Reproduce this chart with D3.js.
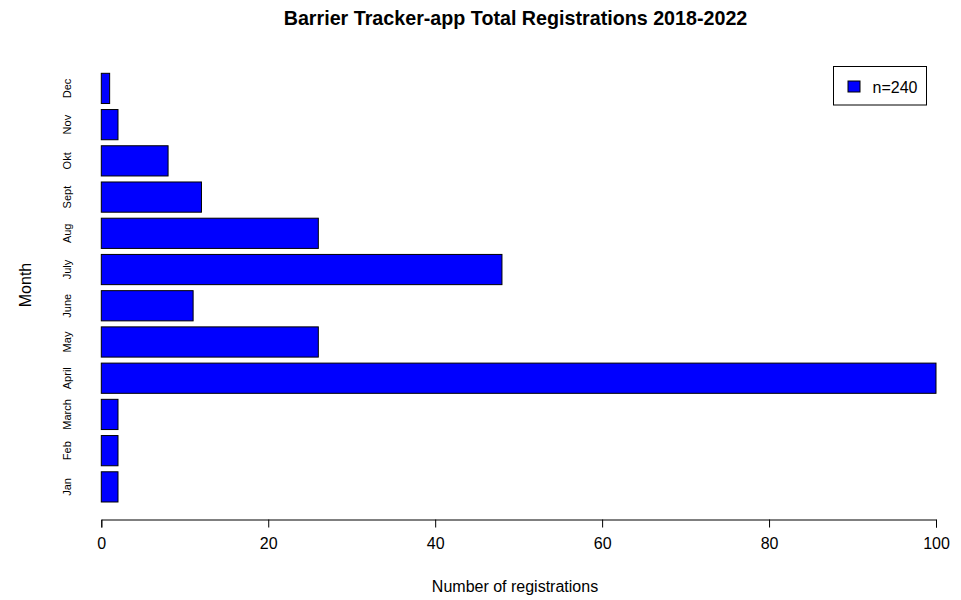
<!DOCTYPE html>
<html>
<head>
<meta charset="utf-8">
<script src="https://cdn.jsdelivr.net/npm/d3@7"></script>
<style>
  html, body { margin: 0; padding: 0; background: #fff; }
  text { font-family: "Liberation Sans", Arial, sans-serif; fill: #000; }
</style>
</head>
<body>
<svg id="chart" width="961" height="600"></svg>
<script>
const months = ["Jan", "Feb", "March", "April", "May", "June", "July", "Aug", "Sept", "Okt", "Nov", "Dec"];
const registrations = [2, 2, 2, 100, 26, 11, 48, 26, 12, 8, 2, 1];
const xTicks = [0, 20, 40, 60, 80, 100];
const legendLabel = "n=240";
const title = "Barrier Tracker-app Total Registrations 2018-2022";
const xLabel = "Number of registrations";
const yLabel = "Month";

const svg = d3.select("#chart");
const data = months.map((m, i) => ({ month: m, value: registrations[i] }));

const x = d3.scaleLinear().domain([0, 100]).range([101.3, 936]);
const y = d3.scaleBand()
  .domain(months.slice().reverse())
  .range([70.3, 505])
  .paddingInner(0.166)
  .paddingOuter(0.083);

// bars
svg.append("g").selectAll("rect")
  .data(data)
  .enter().append("rect")
  .attr("x", x(0))
  .attr("y", d => y(d.month))
  .attr("width", d => x(d.value) - x(0))
  .attr("height", y.bandwidth())
  .attr("fill", "#0000FF")
  .attr("stroke", "#000")
  .attr("stroke-width", 1);

// x axis
const xAxis = d3.axisBottom(x).tickValues(xTicks).tickSize(8).tickSizeOuter(8).tickPadding(10);
const gx = svg.append("g").attr("transform", "translate(0,519.5)").call(xAxis);
gx.selectAll("text").style("font-size", "16px").style("font-family", "'Liberation Sans', Arial, sans-serif").attr("fill", "#000");
gx.selectAll("path, line").attr("stroke", "#000");

// y labels (rotated)
svg.append("g").selectAll("text")
  .data(months)
  .enter().append("text")
  .attr("transform", d => `translate(70.5,${y(d) + y.bandwidth() / 2}) rotate(-90)`)
  .attr("text-anchor", "middle")
  .style("font-size", "11px")
  .text(d => d);

// title
svg.append("text")
  .attr("x", 515.5)
  .attr("y", 25)
  .attr("text-anchor", "middle")
  .style("font-size", "19.7px")
  .style("font-weight", "bold")
  .text(title);

// x label
svg.append("text")
  .attr("x", 515)
  .attr("y", 592)
  .attr("text-anchor", "middle")
  .style("font-size", "16px")
  .text(xLabel);

// y label
svg.append("text")
  .attr("transform", "translate(31,285) rotate(-90)")
  .attr("text-anchor", "middle")
  .style("font-size", "16px")
  .text(yLabel);

// legend
const lg = svg.append("g");
lg.append("rect")
  .attr("x", 833.5).attr("y", 66.5)
  .attr("width", 93).attr("height", 38.5)
  .attr("fill", "#fff").attr("stroke", "#000");
lg.append("rect")
  .attr("x", 848).attr("y", 81)
  .attr("width", 12).attr("height", 11)
  .attr("fill", "#0000FF").attr("stroke", "#000");
lg.append("text")
  .attr("x", 872.5).attr("y", 92.5)
  .style("font-size", "16px")
  .text(legendLabel);
</script>
</body>
</html>
